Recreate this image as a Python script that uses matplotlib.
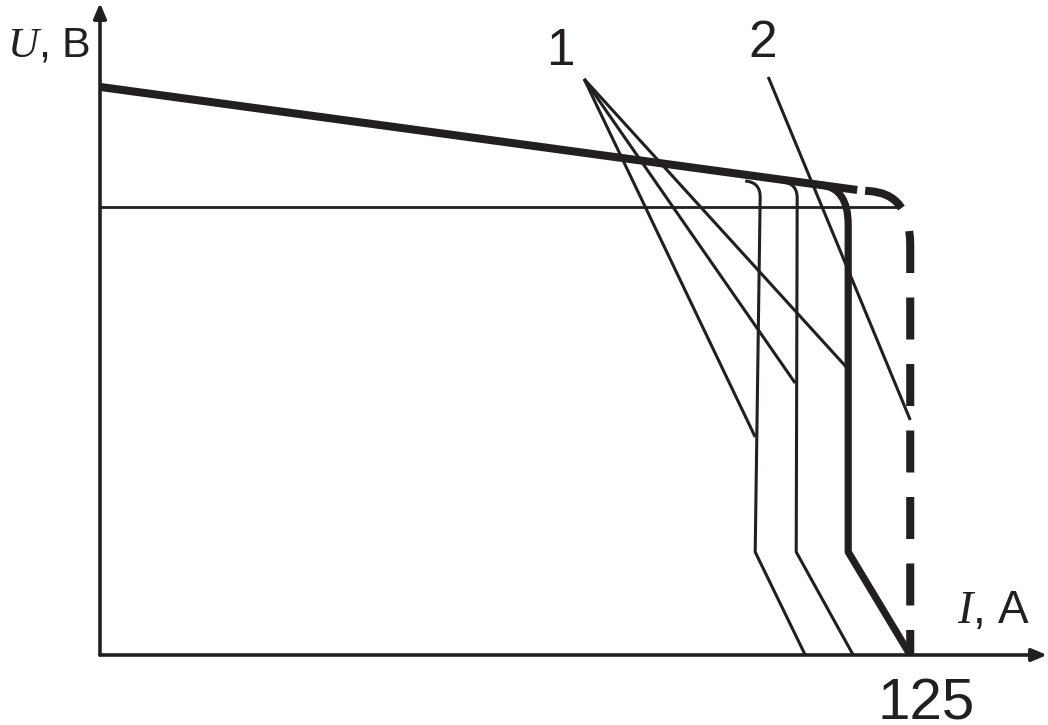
import matplotlib
matplotlib.use("Agg")
import matplotlib.pyplot as plt
from matplotlib.path import Path
from matplotlib.patches import PathPatch

plt.rcParams['font.family'] = ['Liberation Sans', 'DejaVu Sans']
plt.rcParams['mathtext.fontset'] = 'custom'
plt.rcParams['mathtext.it'] = 'Liberation Serif:italic'
plt.rcParams['mathtext.rm'] = 'Liberation Sans'
plt.rcParams['lines.scale_dashes'] = False

INK = '#231f20'

# ---- data (I in A, U in arbitrary volts) ----
I_max, U_max = 146.1, 43.66

# falling external characteristic (thick line)
line_I = [0.0, 116.82]
line_U = [38.04, 31.14]

# reference level (thin horizontal line)
level_I = [0.0, 123.46]
level_U = [30.0, 30.0]

# curves "1": start, corner control, corner end, bottom of vertical, axis crossing
c1a_I = [99.54, 101.85, 101.85, 101.08, 108.80]
c1a_U = [31.74, 31.67, 30.67, 6.90, 0.0]
c1b_I = [105.25, 107.56, 107.56, 107.41, 116.20]
c1b_U = [31.67, 31.61, 30.60, 6.90, 0.0]
c1c_I = [111.42, 115.43, 115.43, 115.43, 125.0]
c1c_U = [31.46, 31.24, 28.80, 6.90, 0.0]

# curve "2" (dashed), from the axis upward
c2_I = [125.0, 125.0, 125.0, 118.52, 116.82]
c2_U = [0.0, 27.46, 30.94, 31.07, 31.14]

# leader lines
lead1_from = (74.69, 38.57)
lead1_to_I = [101.08, 107.25, 115.12]
lead1_to_U = [14.60, 18.21, 19.29]
lead2_I = [103.09, 125.0]
lead2_U = [38.71, 15.74]

tick_label = '125'

W, H = 1048, 725
fig = plt.figure(figsize=(W / 100, H / 100), dpi=100)
ax = fig.add_axes([100 / W, 70 / H, 947 / W, 652 / H])
ax.set_xlim(0, I_max)
ax.set_ylim(0, U_max)
ax.axis('off')


def corner_curve(I, U, lw):
    verts = list(zip(I, U))
    codes = [Path.MOVETO, Path.CURVE3, Path.CURVE3, Path.LINETO, Path.LINETO]
    patch = PathPatch(Path(verts, codes), fill=False, edgecolor=INK, lw=lw,
                      capstyle='butt', joinstyle='round')
    ax.add_patch(patch)


# axes arrows
arrow = dict(arrowstyle='-|>,head_length=0.9,head_width=0.38', mutation_scale=10,
             lw=2.6, color=INK, shrinkA=0, shrinkB=0)
ax.annotate('', xy=(I_max, 0), xytext=(0, 0), arrowprops=arrow, annotation_clip=False)
ax.annotate('', xy=(0, U_max), xytext=(0, 0), arrowprops=arrow, annotation_clip=False)

ax.plot(level_I, level_U, color=INK, lw=2.0, solid_capstyle='butt')
ax.plot(line_I, line_U, color=INK, lw=5.8, solid_capstyle='butt')

corner_curve(c1a_I, c1a_U, 2.2)
corner_curve(c1b_I, c1b_U, 2.2)
corner_curve(c1c_I, c1c_U, 5.2)

# dashed curve 2: line up, rounded corner, short line along the thick line
verts2 = list(zip(c2_I, c2_U))
codes2 = [Path.MOVETO, Path.LINETO, Path.CURVE3, Path.CURVE3, Path.LINETO]
p2 = PathPatch(Path(verts2, codes2), fill=False, edgecolor=INK, lw=5.8,
               capstyle='butt', linestyle=(12.24, (30.24, 17.64)))
ax.add_patch(p2)

for xi, yi in zip(lead1_to_I, lead1_to_U):
    ax.plot([lead1_from[0], xi], [lead1_from[1], yi], color=INK, lw=2.2,
            solid_capstyle='butt', clip_on=False)
ax.plot(lead2_I, lead2_U, color=INK, lw=2.2, solid_capstyle='butt', clip_on=False)


def px(x, y):
    return x / W, 1 - y / H


fig.text(*px(7, 56), r'$U$, B', fontsize=31, color=INK, ha='left', va='baseline')
fig.text(*px(957, 623), r'$I$, A', fontsize=33, color=INK, ha='left', va='baseline')
fig.text(*px(877, 719), tick_label, fontsize=42, color=INK, ha='left', va='baseline')
fig.text(*px(546, 65), '1', fontsize=37, color=INK, ha='left', va='baseline')
fig.text(*px(748, 57), '2', fontsize=37, color=INK, ha='left', va='baseline')

fig.savefig('out.png', dpi=100, facecolor='white')
